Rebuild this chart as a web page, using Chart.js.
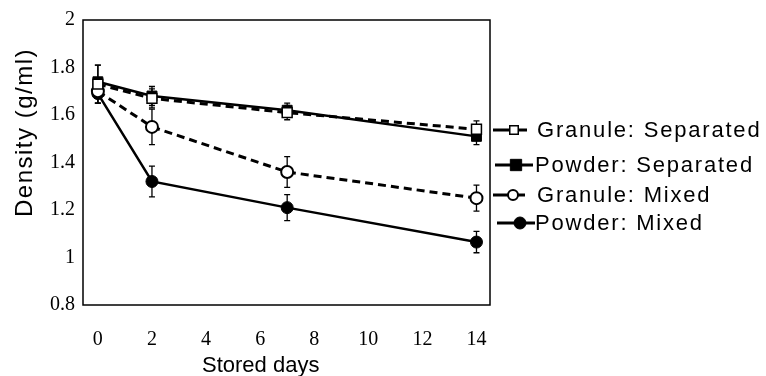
<!DOCTYPE html>
<html>
<head>
<meta charset="utf-8">
<script src="https://cdn.jsdelivr.net/npm/chart.js@4/dist/chart.umd.min.js"></script>
<style>
  html, body { margin: 0; padding: 0; background: #fff; }
  #wrap { width: 766px; height: 376px; position: relative; }
</style>
</head>
<body>
<div id="wrap"><canvas id="c" width="766" height="376"></canvas></div>
<script>
// ---- data ----
const days = [0, 2, 7, 14];
const xTickValues = [0, 2, 4, 6, 8, 10, 12, 14];
const yTickValues = [0.8, 1, 1.2, 1.4, 1.6, 1.8, 2];
const yTickLabels = ['0.8', '1', '1.2', '1.4', '1.6', '1.8', '2'];
const seriesNames = ['Granule: Separated', 'Powder: Separated', 'Granule: Mixed', 'Powder: Mixed'];
const xTitle = 'Stored days';
const yTitle = 'Density (g/ml)';

const granuleSep    = [1.73, 1.67, 1.61, 1.54];
const granuleSepErr = [0.08, 0.04, 0.03, 0.035];
const powderSep     = [1.74, 1.68, 1.62, 1.51];
const powderSepErr  = [0.07, 0.04, 0.03, 0.035];
const granuleMix    = [1.70, 1.55, 1.36, 1.25];
const granuleMixErr = [0.05, 0.075, 0.065, 0.055];
const powderMix     = [1.69, 1.32, 1.21, 1.065];
const powderMixErr  = [0.04, 0.065, 0.055, 0.045];

const toPts = (vals) => days.map((d, i) => ({ x: d, y: vals[i] }));

const datasets = [
  { label: seriesNames[0], data: toPts(granuleSep), err: granuleSepErr,
    borderColor: '#000', borderWidth: 3, borderDash: [8, 5],
    pointStyle: 'rect', pointRadius: 7, pointBackgroundColor: '#fff', pointBorderColor: '#000', pointBorderWidth: 1.5,
    legend: { x0: 493, x1: 527, mx: 514, r: 6 } },
  { label: seriesNames[1], data: toPts(powderSep), err: powderSepErr,
    borderColor: '#000', borderWidth: 2.5,
    pointStyle: 'rect', pointRadius: 7, pointBackgroundColor: '#000', pointBorderColor: '#000', pointBorderWidth: 1,
    legend: { x0: 495, x1: 533, mx: 516, r: 8 } },
  { label: seriesNames[2], data: toPts(granuleMix), err: granuleMixErr,
    borderColor: '#000', borderWidth: 3, borderDash: [8, 5],
    pointStyle: 'circle', pointRadius: 6, pointBackgroundColor: '#fff', pointBorderColor: '#000', pointBorderWidth: 2,
    legend: { x0: 493, x1: 525, mx: 513, r: 5 } },
  { label: seriesNames[3], data: toPts(powderMix), err: powderMixErr,
    borderColor: '#000', borderWidth: 2.5,
    pointStyle: 'circle', pointRadius: 6, pointBackgroundColor: '#000', pointBorderColor: '#000', pointBorderWidth: 1,
    legend: { x0: 497, x1: 535, mx: 520, r: 6 } }
];

const errorBars = {
  id: 'errorBars',
  beforeDatasetsDraw(chart) {
    const ctx = chart.ctx, xs = chart.scales.x, ys = chart.scales.y;
    ctx.save();
    ctx.strokeStyle = '#000';
    ctx.lineWidth = 1.3;
    ctx.setLineDash([]);
    chart.data.datasets.forEach(ds => {
      ds.data.forEach((p, i) => {
        const e = ds.err[i];
        const px = xs.getPixelForValue(p.x);
        const top = ys.getPixelForValue(p.y + e);
        const bot = ys.getPixelForValue(p.y - e);
        ctx.beginPath();
        ctx.moveTo(px, top); ctx.lineTo(px, bot);
        ctx.moveTo(px - 3, top); ctx.lineTo(px + 3, top);
        ctx.moveTo(px - 3, bot); ctx.lineTo(px + 3, bot);
        ctx.stroke();
      });
    });
    ctx.restore();
  }
};

const frameAndLegend = {
  id: 'frameAndLegend',
  afterDraw(chart) {
    const ctx = chart.ctx, a = chart.chartArea;
    ctx.save();
    ctx.strokeStyle = '#000';
    ctx.lineWidth = 1.5;
    ctx.setLineDash([]);
    ctx.strokeRect(a.left, a.top, a.right - a.left, a.bottom - a.top);

    // axis titles
    ctx.fillStyle = '#000';
    ctx.textBaseline = 'alphabetic';
    ctx.textAlign = 'left';
    ctx.font = '22px "Liberation Sans", Arial, sans-serif';
    ctx.letterSpacing = '0px';
    ctx.fillText(xTitle, 202, 372);
    ctx.save();
    ctx.translate(32, 217);
    ctx.rotate(-Math.PI / 2);
    ctx.font = '24px "Liberation Sans", Arial, sans-serif';
    ctx.letterSpacing = '1.5px';
    ctx.fillText(yTitle, 0, 0);
    ctx.restore();

    // legend
    const rowsY = [130, 165, 195, 223];
    const textX = [537, 535, 537, 535];
    ctx.font = '22px "Liberation Sans", Arial, sans-serif';
    ctx.letterSpacing = '1.8px';
    ctx.textBaseline = 'middle';
    chart.data.datasets.forEach((ds, i) => {
      const y = rowsY[i], L = ds.legend;
      ctx.save();
      ctx.lineWidth = 3;
      ctx.beginPath();
      ctx.moveTo(L.x0, y); ctx.lineTo(L.x1, y);
      ctx.stroke();
      ctx.restore();
      ctx.save();
      ctx.fillStyle = ds.pointBackgroundColor;
      ctx.strokeStyle = ds.pointBorderColor;
      ctx.lineWidth = ds.pointBorderWidth;
      Chart.helpers.drawPoint(ctx, { pointStyle: ds.pointStyle, radius: L.r, rotation: 0, borderWidth: ds.pointBorderWidth }, L.mx, y);
      ctx.restore();
      ctx.fillText(ds.label, textX[i], y + 1);
    });
    ctx.restore();
  }
};

new Chart(document.getElementById('c'), {
  type: 'line',
  data: { datasets },
  options: {
    responsive: false,
    animation: false,
    layout: { padding: { top: 15, right: 276, left: 0, bottom: 0 } },
    plugins: { legend: { display: false }, tooltip: { enabled: false } },
    scales: {
      x: {
        type: 'linear',
        min: -0.55, max: 14.5,
        grid: { display: false, drawTicks: false },
        border: { display: false },
        afterBuildTicks(s) { s.ticks = xTickValues.map(v => ({ value: v })); },
        afterFit(s) { s.height = 71; },
        ticks: { color: '#000', padding: 23, maxRotation: 0, autoSkip: false,
                 font: { family: '"Liberation Serif", serif', size: 20 },
                 callback: (v) => String(v) },
        title: { display: false }
      },
      y: {
        type: 'linear',
        min: 0.8, max: 2,
        grid: { display: false, drawTicks: false },
        border: { display: false },
        afterBuildTicks(s) { s.ticks = yTickValues.map(v => ({ value: v })); },
        afterFit(s) { s.width = 83; },
        ticks: { color: '#000', padding: 8, autoSkip: false,
                 font: { family: '"Liberation Serif", serif', size: 20 },
                 callback: (v, i) => yTickLabels[i] },
        title: { display: false }
      }
    },
    elements: { line: { tension: 0, fill: false } }
  },
  plugins: [errorBars, frameAndLegend]
});
</script>
</body>
</html>
